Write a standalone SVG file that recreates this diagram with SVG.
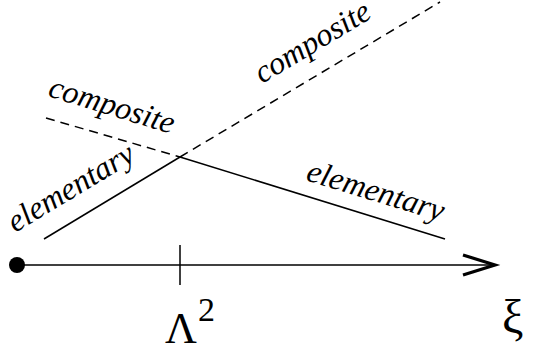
<svg xmlns="http://www.w3.org/2000/svg" width="533" height="351" viewBox="0 0 533 351">
<style>
.ln{stroke:#000;stroke-width:1.5;fill:none}
.ds{stroke-dasharray:9 6}
.lab{font-family:"Liberation Serif","Times New Roman",serif;font-style:italic;font-size:32px;fill:#000}
.m{font-family:"Liberation Serif","Times New Roman",serif;fill:#000}
</style>
<rect width="533" height="351" fill="#fff"/>
<g id="connectors">
<line class="ln" x1="44" y1="239" x2="180" y2="157"/>
<line class="ln ds" x1="180" y1="157" x2="440" y2="2"/>
<line class="ln ds" x1="46" y1="118" x2="180" y2="157"/>
<line class="ln" x1="180" y1="157" x2="445" y2="239"/>
</g>
<g id="axis">
<circle cx="17" cy="265" r="8" fill="#000"/>
<line class="ln" x1="17" y1="265" x2="495" y2="265"/>
<polyline points="463,255 495,265 463,275" fill="none" stroke="#000" stroke-width="3.2"/>
<line class="ln" x1="180" y1="245" x2="180" y2="285"/>
</g>
<g id="labels">
<text class="lab" transform="translate(47,96) rotate(17)">composite</text>
<text class="lab" transform="translate(262,84) rotate(-31)">composite</text>
<text class="lab" transform="translate(15,233) rotate(-31)">elementary</text>
<text class="lab" transform="translate(305,180) rotate(17)">elementary</text>
<text class="m" x="165" y="343" font-size="44">Λ</text>
<text class="m" x="198" y="321" font-size="34">2</text>
<text class="m" x="502" y="333" font-size="48">ξ</text>
</g>
</svg>
